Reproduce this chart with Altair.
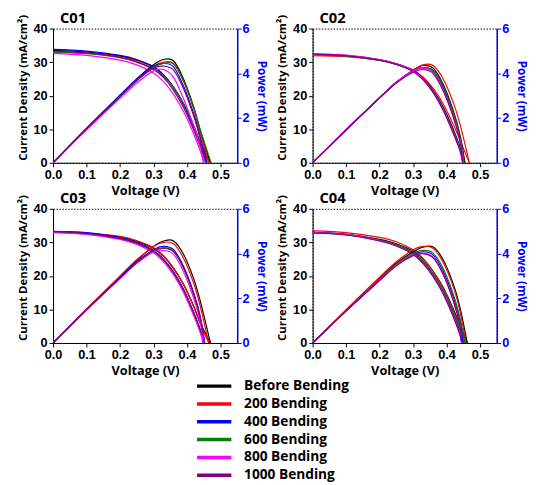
import altair as alt
import pandas as pd

SERIES = ["Before Bending", "200 Bending", "400 Bending", "600 Bending", "800 Bending", "1000 Bending"]
COLORS = ["#000000", "#ff0000", "#0000ff", "#008000", "#ff00ff", "#800080"]
PANELS = ["C01", "C02", "C03", "C04"]

# voltage grid (V); the last point of every curve is its own Voc
V_GRID = [0.0, 0.10, 0.20, 0.25, 0.30, 0.33, 0.36, 0.39, 0.42, 0.44]

# ---- C01 ----
C01_VOC = [0.470, 0.466, 0.460, 0.472, 0.450, 0.456]
C01_J = [
    [33.5, 33.0, 31.8, 30.6, 28.6, 26.2, 22.6, 17.6, 11.0, 5.8, 0],
    [33.1, 32.7, 31.6, 30.4, 28.4, 26.0, 22.4, 17.4, 10.8, 5.6, 0],
    [33.8, 33.3, 32.0, 30.8, 28.6, 26.2, 22.4, 17.2, 10.4, 5.0, 0],
    [33.0, 32.5, 31.3, 30.0, 28.0, 25.8, 22.4, 17.6, 11.2, 6.2, 0],
    [32.6, 32.0, 30.6, 29.2, 26.8, 24.2, 20.4, 15.2, 8.6, 3.4, 0],
    [33.3, 32.8, 31.4, 30.0, 27.8, 25.4, 21.6, 16.4, 9.8, 4.6, 0],
]
C01_P = [
    [0, 1.53, 3.00, 3.75, 4.38, 4.62, 4.55, 3.74, 2.50, 1.41, 0],
    [0, 1.52, 2.97, 3.70, 4.32, 4.50, 4.44, 3.63, 2.40, 1.32, 0],
    [0, 1.55, 3.03, 3.75, 4.32, 4.44, 4.29, 3.42, 2.19, 1.14, 0],
    [0, 1.50, 2.94, 3.66, 4.26, 4.44, 4.41, 3.66, 2.49, 1.47, 0],
    [0, 1.47, 2.88, 3.57, 4.11, 4.17, 3.82, 2.85, 1.65, 0.68, 0],
    [0, 1.52, 2.97, 3.69, 4.23, 4.32, 4.14, 3.30, 2.10, 1.05, 0],
]

# ---- C02 ----
C02_VOC = [0.455, 0.468, 0.452, 0.453, 0.450, 0.448]
C02_J = [
    [32.3, 31.9, 30.7, 29.5, 27.6, 25.2, 21.6, 16.6, 10.0, 4.8, 0],
    [31.9, 31.6, 30.6, 29.5, 27.7, 25.5, 22.2, 17.6, 11.4, 6.8, 0],
    [32.4, 32.0, 30.7, 29.4, 27.4, 25.0, 21.3, 16.2, 9.4, 4.2, 0],
    [32.2, 31.8, 30.5, 29.3, 27.3, 24.9, 21.2, 16.1, 9.4, 4.4, 0],
    [32.5, 32.1, 30.8, 29.5, 27.4, 24.9, 21.1, 15.9, 9.0, 3.8, 0],
    [32.3, 31.9, 30.6, 29.3, 27.2, 24.7, 20.9, 15.6, 8.8, 3.6, 0],
]
C02_P = [
    [0, 1.47, 2.91, 3.60, 4.14, 4.35, 4.23, 3.51, 2.34, 1.26, 0],
    [0, 1.46, 2.90, 3.59, 4.14, 4.38, 4.35, 3.75, 2.70, 1.74, 0],
    [0, 1.47, 2.91, 3.60, 4.11, 4.26, 4.11, 3.36, 2.19, 1.11, 0],
    [0, 1.47, 2.90, 3.59, 4.10, 4.25, 4.14, 3.42, 2.25, 1.17, 0],
    [0, 1.49, 2.91, 3.60, 4.11, 4.23, 4.05, 3.27, 2.10, 1.02, 0],
    [0, 1.47, 2.90, 3.57, 4.05, 4.17, 3.99, 3.21, 2.04, 0.96, 0],
]

# ---- C03 ----
C03_VOC = [0.470, 0.465, 0.453, 0.452, 0.448, 0.452]
C03_J = [
    [33.2, 32.8, 31.6, 30.3, 28.2, 25.8, 22.2, 17.4, 11.0, 6.0, 0],
    [33.0, 32.8, 31.8, 30.5, 28.4, 26.0, 22.4, 17.4, 10.8, 5.6, 0],
    [33.3, 32.9, 31.4, 30.0, 27.6, 25.0, 21.2, 16.0, 9.2, 4.0, 0],
    [33.0, 32.5, 31.1, 29.7, 27.3, 24.7, 20.9, 15.7, 8.9, 3.7, 0],
    [33.0, 32.4, 30.9, 29.4, 26.9, 24.2, 20.3, 15.0, 8.2, 3.0, 0],
    [33.2, 32.7, 31.2, 29.8, 27.4, 24.8, 21.0, 15.8, 9.0, 3.8, 0],
]
C03_P = [
    [0, 1.50, 2.97, 3.69, 4.32, 4.56, 4.56, 3.96, 2.88, 1.86, 0],
    [0, 1.52, 3.00, 3.72, 4.32, 4.50, 4.44, 3.78, 2.67, 1.62, 0],
    [0, 1.49, 2.93, 3.63, 4.17, 4.32, 4.17, 3.42, 2.25, 1.17, 0],
    [0, 1.47, 2.90, 3.59, 4.11, 4.23, 4.08, 3.33, 2.16, 1.08, 0],
    [0, 1.47, 2.88, 3.56, 4.07, 4.14, 3.96, 3.18, 2.01, 0.93, 0],
    [0, 1.49, 2.91, 3.60, 4.14, 4.26, 4.11, 3.36, 2.19, 1.11, 0],
]

# ---- C04 ----
C04_VOC = [0.462, 0.458, 0.450, 0.455, 0.445, 0.445]
C04_J = [
    [33.0, 32.4, 30.9, 29.6, 27.4, 25.0, 21.4, 16.6, 10.2, 5.4, 0],
    [33.4, 32.9, 31.5, 30.2, 27.8, 25.2, 21.4, 16.4, 9.8, 4.8, 0],
    [33.0, 32.4, 30.7, 29.2, 26.8, 24.2, 20.4, 15.4, 8.8, 3.6, 0],
    [32.8, 32.3, 30.7, 29.3, 27.0, 24.5, 20.8, 15.8, 9.2, 4.2, 0],
    [32.9, 32.3, 30.5, 29.0, 26.5, 23.8, 20.0, 14.8, 8.0, 2.6, 0],
    [32.8, 32.2, 30.4, 28.9, 26.4, 23.7, 19.8, 14.6, 7.8, 2.4, 0],
]
C04_P = [
    [0, 1.46, 2.88, 3.57, 4.08, 4.29, 4.29, 3.72, 2.64, 1.59, 0],
    [0, 1.49, 2.94, 3.63, 4.17, 4.32, 4.23, 3.60, 2.52, 1.44, 0],
    [0, 1.44, 2.82, 3.48, 3.96, 4.08, 3.93, 3.21, 2.07, 0.99, 0],
    [0, 1.44, 2.84, 3.51, 4.01, 4.14, 4.02, 3.33, 2.19, 1.14, 0],
    [0, 1.44, 2.82, 3.47, 3.93, 4.02, 3.84, 3.09, 1.92, 0.81, 0],
    [0, 1.43, 2.79, 3.45, 3.90, 3.99, 3.81, 3.06, 1.89, 0.78, 0],
]

PANEL_DATA = {
    "C01": (C01_VOC, C01_J, C01_P),
    "C02": (C02_VOC, C02_J, C02_P),
    "C03": (C03_VOC, C03_J, C03_P),
    "C04": (C04_VOC, C04_J, C04_P),
}

rows = []
for pname in PANELS:
    vocs, js, ps = PANEL_DATA[pname]
    for si, s in enumerate(SERIES):
        vs = V_GRID + [vocs[si]]
        for v, j, p in zip(vs, js[si], ps[si]):
            rows.append({"panel": pname, "series": s, "kind": "J", "V": v, "val": j})
            rows.append({"panel": pname, "series": s, "kind": "P", "V": v, "val": p})
df = pd.DataFrame(rows)

FONT = "Open Sans"
NUMFONT = "Liberation Sans"

color = alt.Color("series:N", scale=alt.Scale(domain=SERIES, range=COLORS), legend=None)
PANEL_VIEW = alt.ViewConfig(stroke="black", strokeDash=[1.5, 1.5], strokeWidth=1)


def panel(name):
    base = alt.Chart(df).transform_filter(alt.datum.panel == name)
    x = alt.X(
        "V:Q",
        scale=alt.Scale(domain=[0, 0.55], nice=False, zero=False),
        axis=alt.Axis(
            title="Voltage (V)", values=[0, 0.1, 0.2, 0.3, 0.4, 0.5], format=".1f",
            labelFont=NUMFONT, labelFontSize=13, labelFontWeight="bold", labelColor="black",
            titleFont=FONT, titleFontSize=13, titleFontWeight="bold", titleColor="black",
            titlePadding=3, labelPadding=2, tickSize=4, domainColor="black", tickColor="black",
            grid=False, labelFlush=False,
        ),
    )
    jl = base.transform_filter(alt.datum.kind == "J").mark_line(
        strokeWidth=1.2, interpolate="cardinal", clip=True
    ).encode(
        x=x,
        y=alt.Y(
            "val:Q",
            scale=alt.Scale(domain=[0, 40], nice=False),
            axis=alt.Axis(
                title="Current Density (mA/cm²)", values=[0, 10, 20, 30, 40],
                labelFont=NUMFONT, labelFontSize=13, labelFontWeight="bold", labelColor="black",
                titleFont=FONT, titleFontSize=11.6, titleFontWeight="bold", titleColor="black",
                titlePadding=5, labelPadding=2, tickSize=4, domainColor="black", tickColor="black",
                grid=False, titleY=60,
            ),
        ),
        color=color,
        detail="series:N",
    )
    pl = base.transform_filter(alt.datum.kind == "P").mark_line(
        strokeWidth=1.2, interpolate="cardinal", clip=True
    ).encode(
        x=x,
        y=alt.Y(
            "val:Q",
            scale=alt.Scale(domain=[0, 6], nice=False),
            axis=alt.Axis(
                orient="right", title="Power (mW)", values=[0, 2, 4, 6],
                labelFont=NUMFONT, labelFontSize=13, labelFontWeight="bold", labelColor="#0000ff",
                titleFont=FONT, titleFontSize=12, titleFontWeight="bold", titleColor="#0000ff",
                titlePadding=6, labelPadding=1, tickSize=4, domainColor="#0000ff",
                tickColor="#0000ff", domainWidth=1.5, grid=False,
            ),
        ),
        color=color,
        detail="series:N",
    )
    ttl = alt.Chart(pd.DataFrame({"t": [name]})).mark_text(
        align="left", baseline="alphabetic", font=FONT, fontSize=15, fontWeight="bold", color="black"
    ).encode(x=alt.value(7), y=alt.value(-6), text="t:N")
    return (
        alt.layer(jl, pl, ttl)
        .resolve_scale(y="independent")
        .properties(width=188, height=137, view=PANEL_VIEW)
    )


leg_df = pd.DataFrame({"series": SERIES})
leg_y = alt.Y(
    "series:N", axis=None,
    scale=alt.Scale(type="point", domain=SERIES, range=[-3, 88], padding=0),
)
leg_rules = alt.Chart(leg_df).mark_rule(strokeWidth=3.5).encode(
    y=leg_y, x=alt.value(147), x2=alt.value(182), color=color
)
leg_text = alt.Chart(leg_df).mark_text(
    align="left", baseline="middle", font=FONT, fontSize=14, fontWeight="bold", color="black"
).encode(y=leg_y, x=alt.value(195), text="series:N")
legend = alt.layer(leg_rules, leg_text).properties(
    width=188, height=82, view=alt.ViewConfig(stroke="transparent")
)

chart = alt.concat(
    panel("C01"), panel("C02"), panel("C03"), panel("C04"), legend,
    columns=2, spacing={"row": 47, "column": 77}, bounds="flush",
).properties(padding={"left": 9, "top": -3, "right": 5, "bottom": 0})

chart.save("out.html", embed_options={"renderer": "svg", "actions": False})
